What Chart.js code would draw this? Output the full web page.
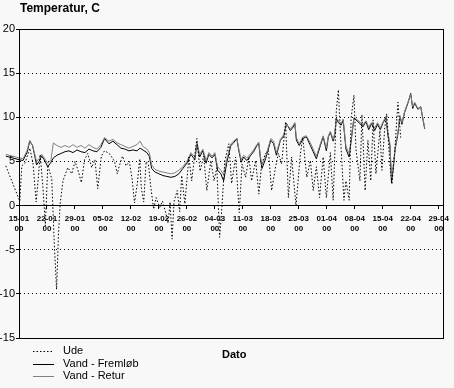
<!DOCTYPE html>
<html>
<head>
<meta charset="utf-8">
<script src="https://cdn.jsdelivr.net/npm/chart.js@4/dist/chart.umd.min.js"></script>
<style>
	body { margin: 0; background: #f8f8f8; }
	#wrap { width: 454px; height: 388px; }
</style>
</head>
<body>
<div id="wrap"><canvas id="tempChart" width="454" height="388"></canvas></div>
<script>
// Ugentlige tick-labels (dag 0 = 15-01)
const tickLabels = ['15-01', '22-01', '29-01', '05-02', '12-02', '19-02', '26-02', '04-03',
	'11-03', '18-03', '25-03', '01-04', '08-04', '15-04', '22-04', '29-04'];

// Ude: dage efter 15-01 og temperatur
const udeDays = [-3.3, 0.2, 0.7, 1.5, 2.7, 3.5, 4.3, 4.8, 5.3, 6.0, 6.6, 7.2, 8.2, 8.8, 9.4, 9.9,
	10.3, 11.0, 11.4, 12.2, 13.2, 14.0, 14.7, 15.6, 16.4, 17.2, 18.2, 19.0, 19.7, 20.6, 21.4, 22.6,
	23.9, 24.6, 25.1, 25.9, 26.8, 27.6, 28.3, 28.9, 29.6, 30.2, 30.6, 31.2, 31.8, 32.4, 33.0, 33.7,
	34.3, 35.2, 35.9, 36.7, 37.3, 37.8, 38.3, 38.8, 39.6, 40.2, 40.7, 41.5, 42.5, 43.2, 44.5, 45.3,
	46.2, 47.0, 48.0, 48.8, 49.5, 50.2, 50.8, 51.5, 52.5, 53.2, 54.2, 55.1, 55.8, 56.7, 57.5, 58.2,
	59.2, 60.0, 60.7, 61.7, 62.4, 63.2, 64.2, 64.9, 65.7, 66.7, 67.4, 68.2, 69.3, 70.4, 71.0, 72.0,
	72.9, 73.6, 74.4, 75.2, 76.1, 76.9, 77.9, 78.6, 79.4, 79.9, 80.6, 81.3, 81.8, 82.6, 83.1, 83.8,
	84.3, 85.3, 85.8, 86.6, 87.3, 88.0, 88.6, 89.3, 90.3, 90.8, 91.5, 92.0, 92.8, 93.3, 94.0, 94.8, 95.5];
const udeTemp = [4.5, 0.5, 4.5, 4.8, 6.5, 4.8, 0.4, 3.0, 5.8, 2.0, -2.3, 4.6, 3.0, -4.0, -9.5, -3.0,
	0.2, 2.8, 3.3, 4.3, 3.6, 5.0, 4.1, 2.6, 5.2, 5.9, 4.3, 5.2, 1.9, 5.6, 6.2, 5.9,
	5.0, 3.6, 4.5, 5.6, 4.5, 5.0, 3.0, 0.3, 2.5, 5.3, 2.0, 0.4, 5.0, 4.6, 2.0, -0.4,
	0.9, -0.2, 0.5, -0.8, -2.0, 0.4, -3.8, 0.5, 1.7, -0.7, 3.4, 0.2, 5.5, 2.8, 7.6, 3.9,
	5.6, 1.7, 5.1, 2.8, 4.3, -3.6, 0.0, 5.1, 7.0, 2.5, 5.5, -0.8, 4.7, 3.2, 5.5, 2.8,
	5.1, 1.3, 4.7, 5.9, 6.2, 1.7, 4.4, 5.9, 4.7, 9.5, 0.9, 5.5, 0.0, 5.9, 7.7, 3.2,
	5.1, 1.7, 4.4, 0.9, 5.5, 0.9, 6.0, 0.6, 10.8, 13.1, 6.4, 0.6, 2.8, 0.6, 9.9, 12.5,
	6.4, 2.8, 10.3, 1.7, 7.4, 2.8, 9.7, 3.6, 8.5, 4.0, 8.8, 10.4, 4.7, 2.4, 6.0, 11.7, 7.7];

// Vand: fremløb og retur
const vandDays = [-3.3, 0, 1, 2, 2.7, 3.4, 4.4, 5, 5.7, 6.3, 7.2, 8, 8.6, 9.5, 10.5, 11.5,
	12.5, 13.5, 14.5, 15.5, 16.5, 17.5, 18.5, 19.5, 20.5, 21.4, 22.5, 23.5, 24.5, 25.5, 26.5, 27.5,
	28.5, 29.5, 30.3, 31, 32, 32.6, 33.2, 34, 35, 36, 37, 38, 39, 40, 41, 42,
	43, 44, 44.5, 45.2, 46, 46.8, 47.5, 48.3, 49, 49.7, 50.5, 51.2, 52, 53, 53.7, 54.5,
	55, 55.6, 56.2, 57, 58, 58.7, 59.5, 60, 60.4, 60.8, 61.7, 63, 63.7, 64.4, 65.4, 66.2,
	66.9, 67.9, 68.6, 69, 69.4, 70.1, 71.1, 71.9, 72.9, 73.6, 74.4, 75.4, 76.1, 76.9, 77.4, 77.9,
	78.6, 79, 79.4, 79.9, 80.6, 81.1, 81.8, 82.6, 83.1, 83.8, 84.3, 85.3, 86, 86.8, 87.5, 88.2,
	89, 89.7, 90.4, 91.1, 91.8, 92.3, 92.8, 93.2, 93.7, 94.1, 94.8, 95.3, 95.8, 96.5, 97.3, 98,
	98.5, 99, 99.8, 100.5, 101, 101.5];
const fremTemp = [5.6, 5.2, 5.1, 6.0, 7.3, 6.8, 4.6, 5.0, 5.6, 5.2, 4.4, 4.9, 5.4, 5.7, 5.9, 6.1,
	6.2, 6.0, 6.3, 6.1, 6.0, 6.4, 6.2, 6.1, 6.6, 7.6, 7.0, 7.3, 6.9, 6.5, 6.4, 6.2,
	6.3, 6.2, 6.5, 6.3, 6.0, 5.6, 4.2, 3.8, 3.6, 3.4, 3.3, 3.2, 3.3, 3.6, 4.2, 4.8,
	5.8, 5.2, 7.0, 5.5, 6.2, 4.8, 5.8, 5.4, 5.8, 4.0, 3.6, 2.8, 4.9, 6.8, 7.1, 7.6,
	6.2, 4.9, 5.5, 5.1, 5.7, 6.1, 6.8, 7.0, 5.3, 4.2, 5.3, 7.4, 7.0, 5.7, 7.4, 7.8,
	9.3, 8.5, 8.9, 9.3, 7.4, 6.8, 7.6, 7.8, 6.8, 6.1, 5.3, 6.8, 7.8, 6.2, 7.8, 8.3,
	7.3, 8.0, 9.9, 9.4, 9.1, 9.7, 6.4, 5.5, 7.3, 9.9, 9.7, 9.3, 8.9, 9.5, 8.6, 9.3,
	8.5, 9.2, 8.6, 9.4, 9.9, 8.0, 6.8, 2.6, 4.5, 6.4, 8.1, 10.1, 9.2, 10.6, 11.6, 12.7,
	11.0, 11.6, 10.9, 11.2, 9.9, 8.7];
const returTemp = [5.8, 5.4, 5.3, 6.2, 7.4, 6.8, 5.0, 5.3, 5.8, 5.4, 4.8, 5.2, 7.1, 6.8, 6.6, 6.8,
	6.6, 6.9, 6.6, 6.8, 6.5, 6.9, 6.6, 6.4, 6.9, 7.7, 7.3, 7.5, 7.1, 6.9, 6.7, 6.5,
	6.7, 6.9, 7.3, 6.7, 6.4, 6.0, 4.6, 4.1, 3.9, 3.8, 3.7, 3.6, 3.7, 4.0, 4.4, 5.0,
	6.0, 5.5, 7.2, 5.8, 6.4, 5.1, 6.0, 5.6, 6.0, 4.4, 4.0, 3.5, 5.3, 7.0, 7.3, 7.6,
	6.4, 5.2, 5.7, 5.4, 5.9, 6.3, 6.9, 7.2, 5.6, 4.6, 5.6, 7.6, 7.3, 6.0, 7.5, 8.0,
	9.2, 8.7, 9.1, 9.4, 7.7, 7.0, 7.8, 7.9, 7.1, 6.4, 5.6, 7.0, 7.9, 6.5, 7.9, 8.4,
	7.5, 8.2, 9.9, 9.6, 9.3, 9.8, 6.7, 5.9, 7.5, 10.0, 9.8, 9.5, 9.1, 9.6, 8.9, 9.4,
	8.8, 9.4, 8.8, 9.5, 10.1, 8.3, 7.0, 3.2, 4.8, 6.5, 8.3, 10.2, 9.4, 10.7, 11.7, 12.6,
	11.2, 11.7, 11.0, 11.2, 10.0, 8.8];

const fontFamily = '"Liberation Sans", Arial, sans-serif';
Chart.defaults.font.family = fontFamily;
Chart.defaults.color = '#000';

function toPoints(days, temps) {
	return days.map((d, i) => ({ x: d, y: temps[i] }));
}

// Ramme, titel, akse-titel og legend som i originalen
const notesPlugin = {
	id: 'notes',
	afterDraw(chart) {
		const { ctx, chartArea: a } = chart;
		ctx.save();
		ctx.strokeStyle = '#000';
		ctx.lineWidth = 1;
		ctx.setLineDash([]);
		ctx.strokeRect(Math.round(a.left) + 0.5, Math.round(a.top) + 0.5,
			Math.round(a.right - a.left), Math.round(a.bottom - a.top));

		ctx.fillStyle = '#000';
		ctx.textBaseline = 'middle';
		ctx.font = 'bold 12px ' + fontFamily;
		ctx.fillText('Temperatur, C', 20, 9);
		ctx.font = 'bold 11px ' + fontFamily;
		ctx.fillText('Dato', 222, 355);

		ctx.font = '11px ' + fontFamily;
		chart.data.datasets.forEach((ds, i) => {
			const y = 351 + i * 12.5;
			ctx.strokeStyle = ds.borderColor;
			ctx.lineWidth = 1;
			ctx.setLineDash(ds.borderDash || []);
			ctx.beginPath();
			ctx.moveTo(33, Math.round(y) + 0.5);
			ctx.lineTo(54, Math.round(y) + 0.5);
			ctx.stroke();
			ctx.fillText(ds.label, 63, y);
		});
		ctx.restore();
	}
};

const ctx = document.getElementById('tempChart');
new Chart(ctx, {
	type: 'line',
	data: {
		datasets: [{
			label: 'Ude',
			data: toPoints(udeDays, udeTemp),
			borderColor: '#000',
			borderWidth: 1,
			borderDash: [1.5, 2],
			order: 0
		}, {
			label: 'Vand - Fremløb',
			data: toPoints(vandDays, fremTemp),
			borderColor: '#000',
			borderWidth: 1,
			order: 2
		}, {
			label: 'Vand - Retur',
			data: toPoints(vandDays, returTemp),
			borderColor: '#808080',
			borderWidth: 1,
			order: 1
		}]
	},
	options: {
		responsive: false,
		animation: false,
		clip: false,
		elements: {
			point: { radius: 0 },
			line: { tension: 0 }
		},
		layout: { padding: { top: 29, right: 8, bottom: 50, left: 0 } },
		plugins: {
			legend: { display: false },
			title: { display: false },
			tooltip: { enabled: false }
		},
		scales: {
			x: {
				type: 'linear',
				min: 0,
				max: 106.2,
				position: { y: 0 },
				afterBuildTicks: (scale) => {
					scale.ticks = tickLabels.map((t, i) => ({ value: i * 7 }));
				},
				ticks: {
					autoSkip: false,
					maxRotation: 0,
					padding: 5,
					font: { size: 8, weight: 'bold', lineHeight: 1.3 },
					callback: (value, index) => [tickLabels[index], '00']
				},
				grid: { drawOnChartArea: false, tickLength: 3, color: '#000' },
				border: { color: '#000', width: 1 }
			},
			y: {
				min: -15,
				max: 20,
				afterFit: (scale) => { scale.width = 19; },
				ticks: { stepSize: 5, padding: 1, font: { size: 11 } },
				grid: { color: '#000', tickLength: 3, tickColor: '#000' },
				border: { color: '#000', width: 1, dash: [1, 3] }
			}
		}
	},
	plugins: [notesPlugin]
});
</script>
</body>
</html>
